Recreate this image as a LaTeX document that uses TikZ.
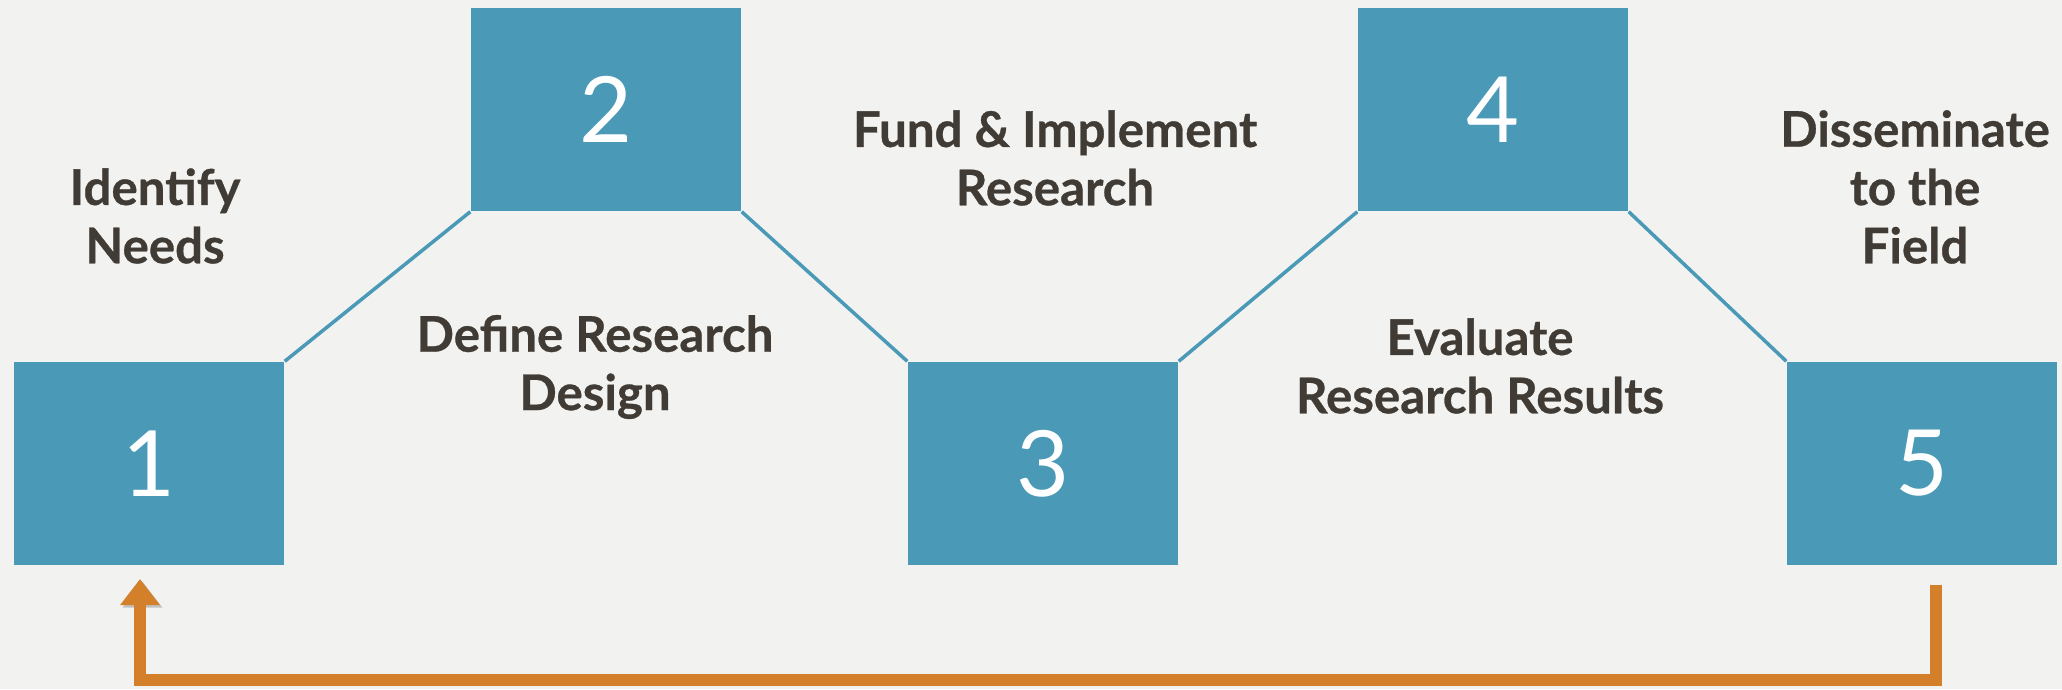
\documentclass[tikz,border=0pt]{standalone}
\usepackage{fontspec}
\setmainfont{Lato}[BoldFeatures={FakeBold=0.6}]
\usetikzlibrary{arrows.meta}

\definecolor{stepblue}{HTML}{4A99B7}
\definecolor{labelgray}{HTML}{403B34}
\definecolor{loopor}{HTML}{D47F2A}
\definecolor{paper}{HTML}{F2F2F0}

\begin{document}
\begin{tikzpicture}[x=1cm,y=1cm]

        \fill[paper] (0,0) rectangle (20.62,-6.89);
        \useasboundingbox (0,0) rectangle (20.62,-6.89);

        % numbered steps
        \begin{scope}[every node/.style={rectangle,fill=stepblue,text=white,inner sep=0pt,
            minimum width=2.70cm,minimum height=2.03cm,font=\fontsize{26}{30}\selectfont}]
          \node (b1) at (1.49,-4.635)  {1};
          \node (b2) at (6.06,-1.095)  {2};
          \node (b3) at (10.43,-4.635) {3};
          \node (b4) at (14.93,-1.095) {4};
          \node (b5) at (19.22,-4.635) {5};
        \end{scope}

        % zigzag between the steps
        \begin{scope}[every edge/.style={draw=stepblue,line width=0.035cm}]
          \path (b1.north east) edge (b2.south west);
          \path (b2.south east) edge (b3.north west);
          \path (b3.north east) edge (b4.south west);
          \path (b4.south east) edge (b5.north west);
        \end{scope}

        % step captions
        \begin{scope}[every node/.style={text=labelgray,align=center,
            font=\bfseries\fontsize{14}{16.6}\selectfont}]
          \node (needs)    at (1.55,-2.16)  {Identify\\Needs};
          \node (design)   at (5.95,-3.67)  {Define Research\\Design};
          \node (fund)     at (10.55,-1.58) {Fund \& Implement\\Research};
          \node (evaluate) at (14.80,-3.66) {Evaluate\\Research Results};
          \node (spread)   at (19.15,-1.87) {Disseminate\\to the\\Field};
        \end{scope}

        % feedback loop from 5 back to 1
        \coordinate (fb-start) at (19.36,-5.85);
        \coordinate (fb-end)   at (1.40,-5.79);
        \draw[loopor,line width=0.12cm,miter limit=4,
              -{Triangle[width=0.38cm,length=0.26cm]},
              preaction={draw=black,opacity=0.2,transform canvas={shift={(0.025,-0.025)}}}]
          (fb-start) -- ++(0,-0.95) -| (fb-end);

      \end{tikzpicture}
\end{document}
